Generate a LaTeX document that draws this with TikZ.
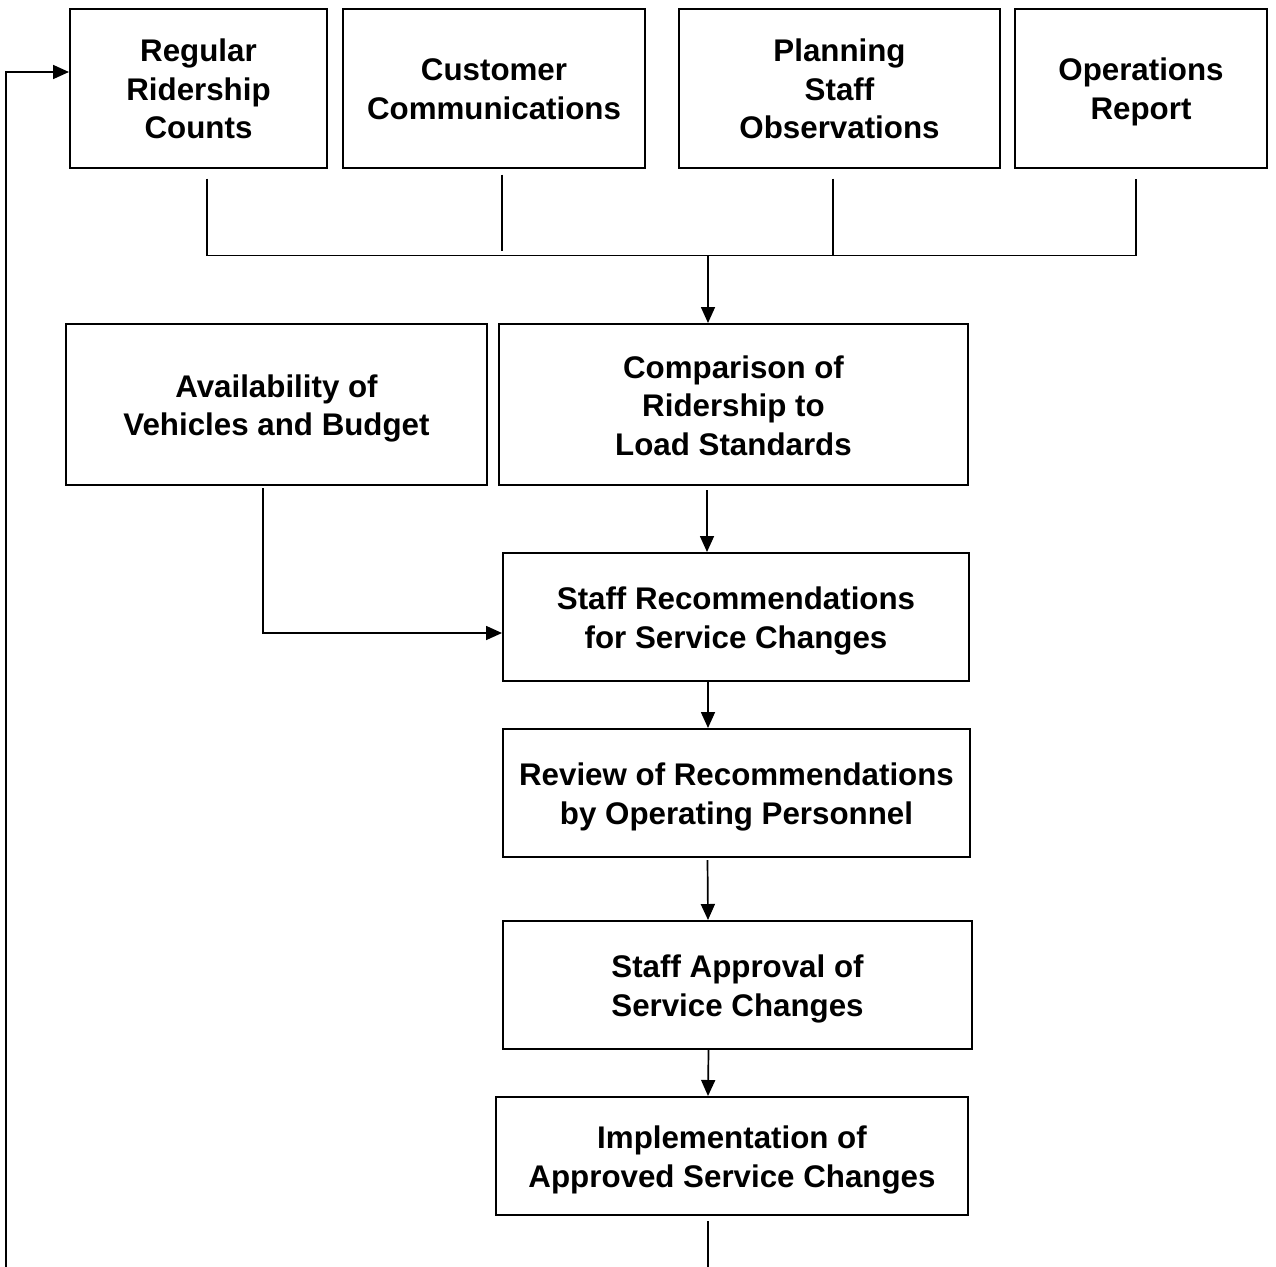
\documentclass[tikz,border=0pt]{standalone}
\usepackage{fontspec}
\setmainfont{Liberation Sans}
\usetikzlibrary{arrows.meta,calc}
% struts giving every label the same first-line height and last-line depth
\newcommand\hdrstrut{\rule{0pt}{32pt}}
\newcommand\ftrstrut{\rule[-8pt]{0pt}{8pt}}
\begin{document}
\begin{tikzpicture}[x=1pt,y=-1pt,
  box/.style={draw,line width=2pt,rectangle,align=center,inner sep=0pt,
    font=\fontsize{31.3}{38.5}\selectfont\bfseries},
  link/.style={line width=1.7pt},
  arr/.style={link,-{Triangle[length=16pt,width=14pt]}}]
\useasboundingbox (0,0) rectangle (1276,1266);
\clip (0,0) rectangle (1276,1266);

% data sources
\node[box,minimum width=257pt,minimum height=159pt] (r1) at (198.5,88) {\hdrstrut Regular\\Ridership\\Counts\ftrstrut};
\node[box,minimum width=302pt,minimum height=159pt] (r2) at (494,88) {\hdrstrut Customer\\Communications\ftrstrut};
\node[box,minimum width=321pt,minimum height=159pt] (r3) at (839.5,88) {\hdrstrut Planning\\Staff\\Observations\ftrstrut};
\node[box,minimum width=252pt,minimum height=159pt] (r4) at (1141,88) {\hdrstrut Operations\\Report\ftrstrut};

% process steps
\node[box,minimum width=421pt,minimum height=161pt] (av) at (276.5,404.5) {\hdrstrut Availability of\\Vehicles and Budget\ftrstrut};
\node[box,minimum width=469pt,minimum height=161pt] (cmp) at (733.5,404.5) {\hdrstrut Comparison of\\Ridership to\\Load Standards\ftrstrut};
\node[box,minimum width=466pt,minimum height=128pt] (rec) at (736,617) {\hdrstrut Staff Recommendations\\for Service Changes\ftrstrut};
\node[box,minimum width=467pt,minimum height=128pt] (rev) at (736.5,793) {\hdrstrut Review of Recommendations\\by Operating Personnel\ftrstrut};
\node[box,minimum width=469pt,minimum height=128pt] (apv) at (737.5,985) {\hdrstrut Staff Approval of\\Service Changes\ftrstrut};
\node[box,minimum width=472pt,minimum height=118pt] (imp) at (732,1156) {\hdrstrut Implementation of\\Approved Service Changes\ftrstrut};

% collector bus under the data sources
\draw[link] ($(r1.south)+(8.5,10)$) |- ($(r4.south)+(-5,87)$) -- ++(0,-77);
\draw[link] ($(r2.south)+(8,6)$) -- ++(0,76);
\draw[link] ($(r3.south)+(-6.5,10)$) -- ++(0,77);
\coordinate (bus) at (708,255);
\draw[arr] (bus) -- (bus |- cmp.north);

% main flow
\coordinate (c1) at ($(cmp.south)+(-26.5,4)$);
\draw[arr] (c1) -- (c1 |- rec.north);
\draw[arr] ($(av.south)+(-13.5,2)$) |- ($(rec.west)+(0,16)$);
\draw[arr] ($(rec.south)+(-28,0)$) -- ($(rev.north)+(-28.5,0)$);
\draw[arr] ($(rev.south)+(-29,2)$) -- ($(apv.north)+(-29.5,0)$);
\draw[arr] ($(apv.south)+(-29,0)$) -- ($(imp.north)+(-24,0)$);

% feedback loop back to the ridership counts
\draw[arr] ($(imp.south)+(-24,5)$) -- ++(0,80) -| ($(r1.west)+(-63,-16)$) -- ($(r1.west)+(0,-16)$);
\end{tikzpicture}
\end{document}
